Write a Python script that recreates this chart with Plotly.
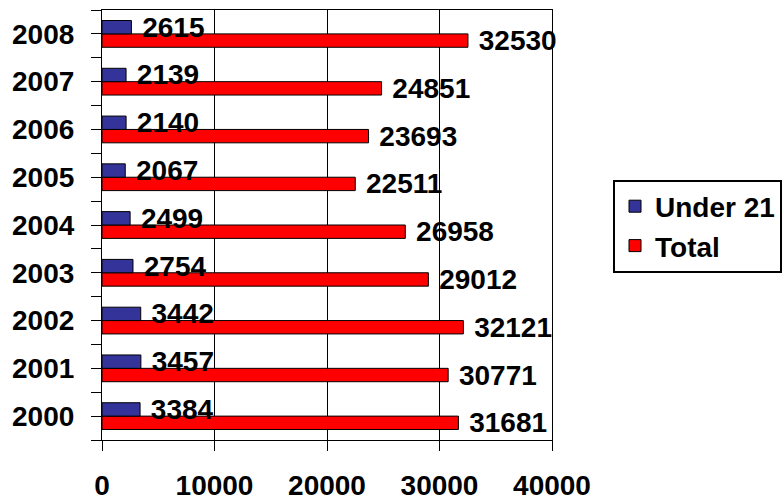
import plotly.graph_objects as go

years = [2000, 2001, 2002, 2003, 2004, 2005, 2006, 2007, 2008]
under21 = [3384, 3457, 3442, 2754, 2499, 2067, 2140, 2139, 2615]
total = [31681, 30771, 32121, 29012, 26958, 22511, 23693, 24851, 32530]
x_ticks = [0, 10000, 20000, 30000, 40000]

FONT = dict(family="Liberation Sans, Arial, sans-serif", size=28, color="black", weight="bold")

fig = go.Figure()
fig.add_trace(go.Bar(
    name="Total", y=years, x=total, orientation="h",
    marker=dict(color="#FF0000", line=dict(color="black", width=1)),
    text=[str(v) for v in total], texttemplate="\u00a0%{text}",
    textposition="outside", textfont=FONT, constraintext="none", cliponaxis=False,
))
fig.add_trace(go.Bar(
    name="Under 21", y=years, x=under21, orientation="h",
    marker=dict(color="#333399", line=dict(color="black", width=1)),
    text=[str(v) for v in under21], texttemplate="\u00a0%{text}",
    textposition="outside", textfont=FONT, constraintext="none", cliponaxis=False,
))

fig.update_layout(
    width=782, height=500,
    margin=dict(l=102, r=230, t=10, b=60, autoexpand=False),
    paper_bgcolor="white", plot_bgcolor="white",
    barmode="group", bargap=0.44, bargroupgap=0,
    font=FONT,
    showlegend=True,
    legend=dict(
        traceorder="reversed", xref="container", yref="container",
        x=0.7839, xanchor="left", y=0.548, yanchor="middle",
        bordercolor="black", borderwidth=2, font=FONT, bgcolor="white",
    ),
    xaxis=dict(
        range=[0, 40000], tickvals=x_ticks, ticktext=[str(v) for v in x_ticks],
        showgrid=True, gridcolor="black", gridwidth=1,
        showline=True, linecolor="black", linewidth=1.2, mirror=True,
        ticks="outside", ticklen=10, tickcolor="black",
        zeroline=False, ticklabelstandoff=10, tickfont=FONT, automargin=False,
    ),
    yaxis=dict(
        range=[years[0] - 0.5, years[-1] + 0.5], tickvals=years,
        ticktext=[str(y) for y in years],
        showgrid=False, zeroline=False,
        showline=True, linecolor="black", linewidth=1.2, mirror=True,
        ticks="outside", ticklen=10, tickcolor="black",
        minor=dict(ticks="outside", ticklen=10, tick0=years[0] - 0.5, dtick=1,
                   tickcolor="black", showgrid=False),
        ticklabelstandoff=11, tickfont=FONT, automargin=False,
    ),
)

fig.write_html("out.html")
